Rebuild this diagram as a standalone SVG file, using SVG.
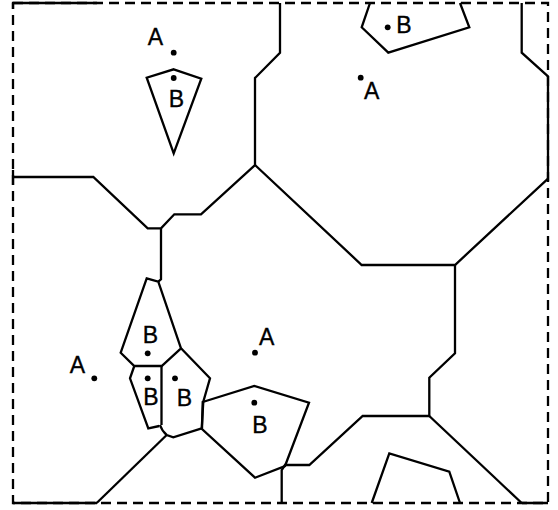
<svg xmlns="http://www.w3.org/2000/svg" width="558" height="510" viewBox="0 0 558 510">
<style>
.ln{fill:none;stroke:#000;stroke-width:2.3;stroke-linejoin:miter;stroke-linecap:butt}
.dash{fill:none;stroke:#000;stroke-width:2.3;stroke-dasharray:10 6}
.lbl{font-family:"Liberation Sans",Arial,sans-serif;font-size:23px;fill:#000;stroke:#000;stroke-width:0.35;text-anchor:middle}
.dot{fill:#000}
</style>
<rect width="558" height="510" fill="#fff"/>
<g id="boundary">
<rect class="dash" x="13" y="3" width="535" height="500"/>
<path class="ln" d="M13,3 H97 M13,3 V9 M13,170 V185 M548,76 V181 M13,503 H97 M522,503 H548"/>
</g>
<g id="connectors">
<path class="ln" d="M280,3 V52.7 L255,78 V165 L201,214.3 H174.3 L161,228.3 H147.7 L93.3,177 H13"/>
<path class="ln" d="M255,165 L361.7,265 H455 L548.3,178.3"/>
<path class="ln" d="M455,265 V353.3 L429.3,377.7 V416 H362.7 L309.3,465 H285 L281.7,470 V503"/>
<path class="ln" d="M429.3,416 L521.7,503"/>
<path class="ln" d="M161,228.3 V279.3 L158.3,281.7"/>
<path class="ln" d="M166.7,435 L96.7,503"/>
<path class="ln" d="M521.7,3 V52.7 L548.3,76.7"/>
</g>
<g id="cell-B1">
<polygon class="ln" points="173.7,69.3 201.3,78.7 173.7,153.3 146.7,77.7"/>
</g>
<g id="cell-B2">
<polyline class="ln" points="370,3 361.7,27.3 388.3,52.7 469.3,27.3 460,3"/>
</g>
<g id="cell-B3">
<polygon class="ln" points="146.7,278.3 158.3,281.7 181,348.3 161.7,366 134.3,366 120.7,352.7"/>
</g>
<g id="cell-B4">
<path class="ln" d="M134.3,366 L130,378.3 L148.3,428.3 L159.3,426 M161.5,366 V425"/>
</g>
<g id="cell-B5">
<path class="ln" d="M181,348.3 L210,378.3 L203.3,401.7 L201.7,428.3 L173.3,437.3 L166.7,435 Q162,431 160,425"/>
</g>
<g id="cell-B6">
<polygon class="ln" points="202.7,402 254.3,386 309,402.7 285,466 255,477.7 202,429"/>
</g>
<g id="cell-B7">
<polyline class="ln" points="371.7,503 389.3,453.3 449.3,471.7 460,503"/>
</g>
<g id="site-A1"><text class="lbl" x="155.5" y="45">A</text><circle class="dot" cx="173.7" cy="52.7" r="2.9"/></g>
<g id="site-B1"><circle class="dot" cx="173.7" cy="78" r="2.9"/><text class="lbl" x="176.5" y="107">B</text></g>
<g id="site-B2"><circle class="dot" cx="387.7" cy="27.3" r="2.9"/><text class="lbl" x="404" y="32.7">B</text></g>
<g id="site-A2"><circle class="dot" cx="360.7" cy="77.7" r="2.9"/><text class="lbl" x="371.7" y="99">A</text></g>
<g id="site-B3"><text class="lbl" x="150.3" y="342.5">B</text><circle class="dot" cx="147.7" cy="353.3" r="2.9"/></g>
<g id="site-B4"><circle class="dot" cx="147.7" cy="378.3" r="2.9"/><text class="lbl" x="151" y="405">B</text></g>
<g id="site-B5"><circle class="dot" cx="175" cy="378.3" r="2.9"/><text class="lbl" x="184.5" y="405.5">B</text></g>
<g id="site-A3"><text class="lbl" x="77.5" y="372.5">A</text><circle class="dot" cx="94.3" cy="378.3" r="2.9"/></g>
<g id="site-A4"><text class="lbl" x="266.7" y="345">A</text><circle class="dot" cx="255" cy="352.7" r="2.9"/></g>
<g id="site-B6"><circle class="dot" cx="254.3" cy="402.7" r="2.9"/><text class="lbl" x="260" y="433">B</text></g>
</svg>
